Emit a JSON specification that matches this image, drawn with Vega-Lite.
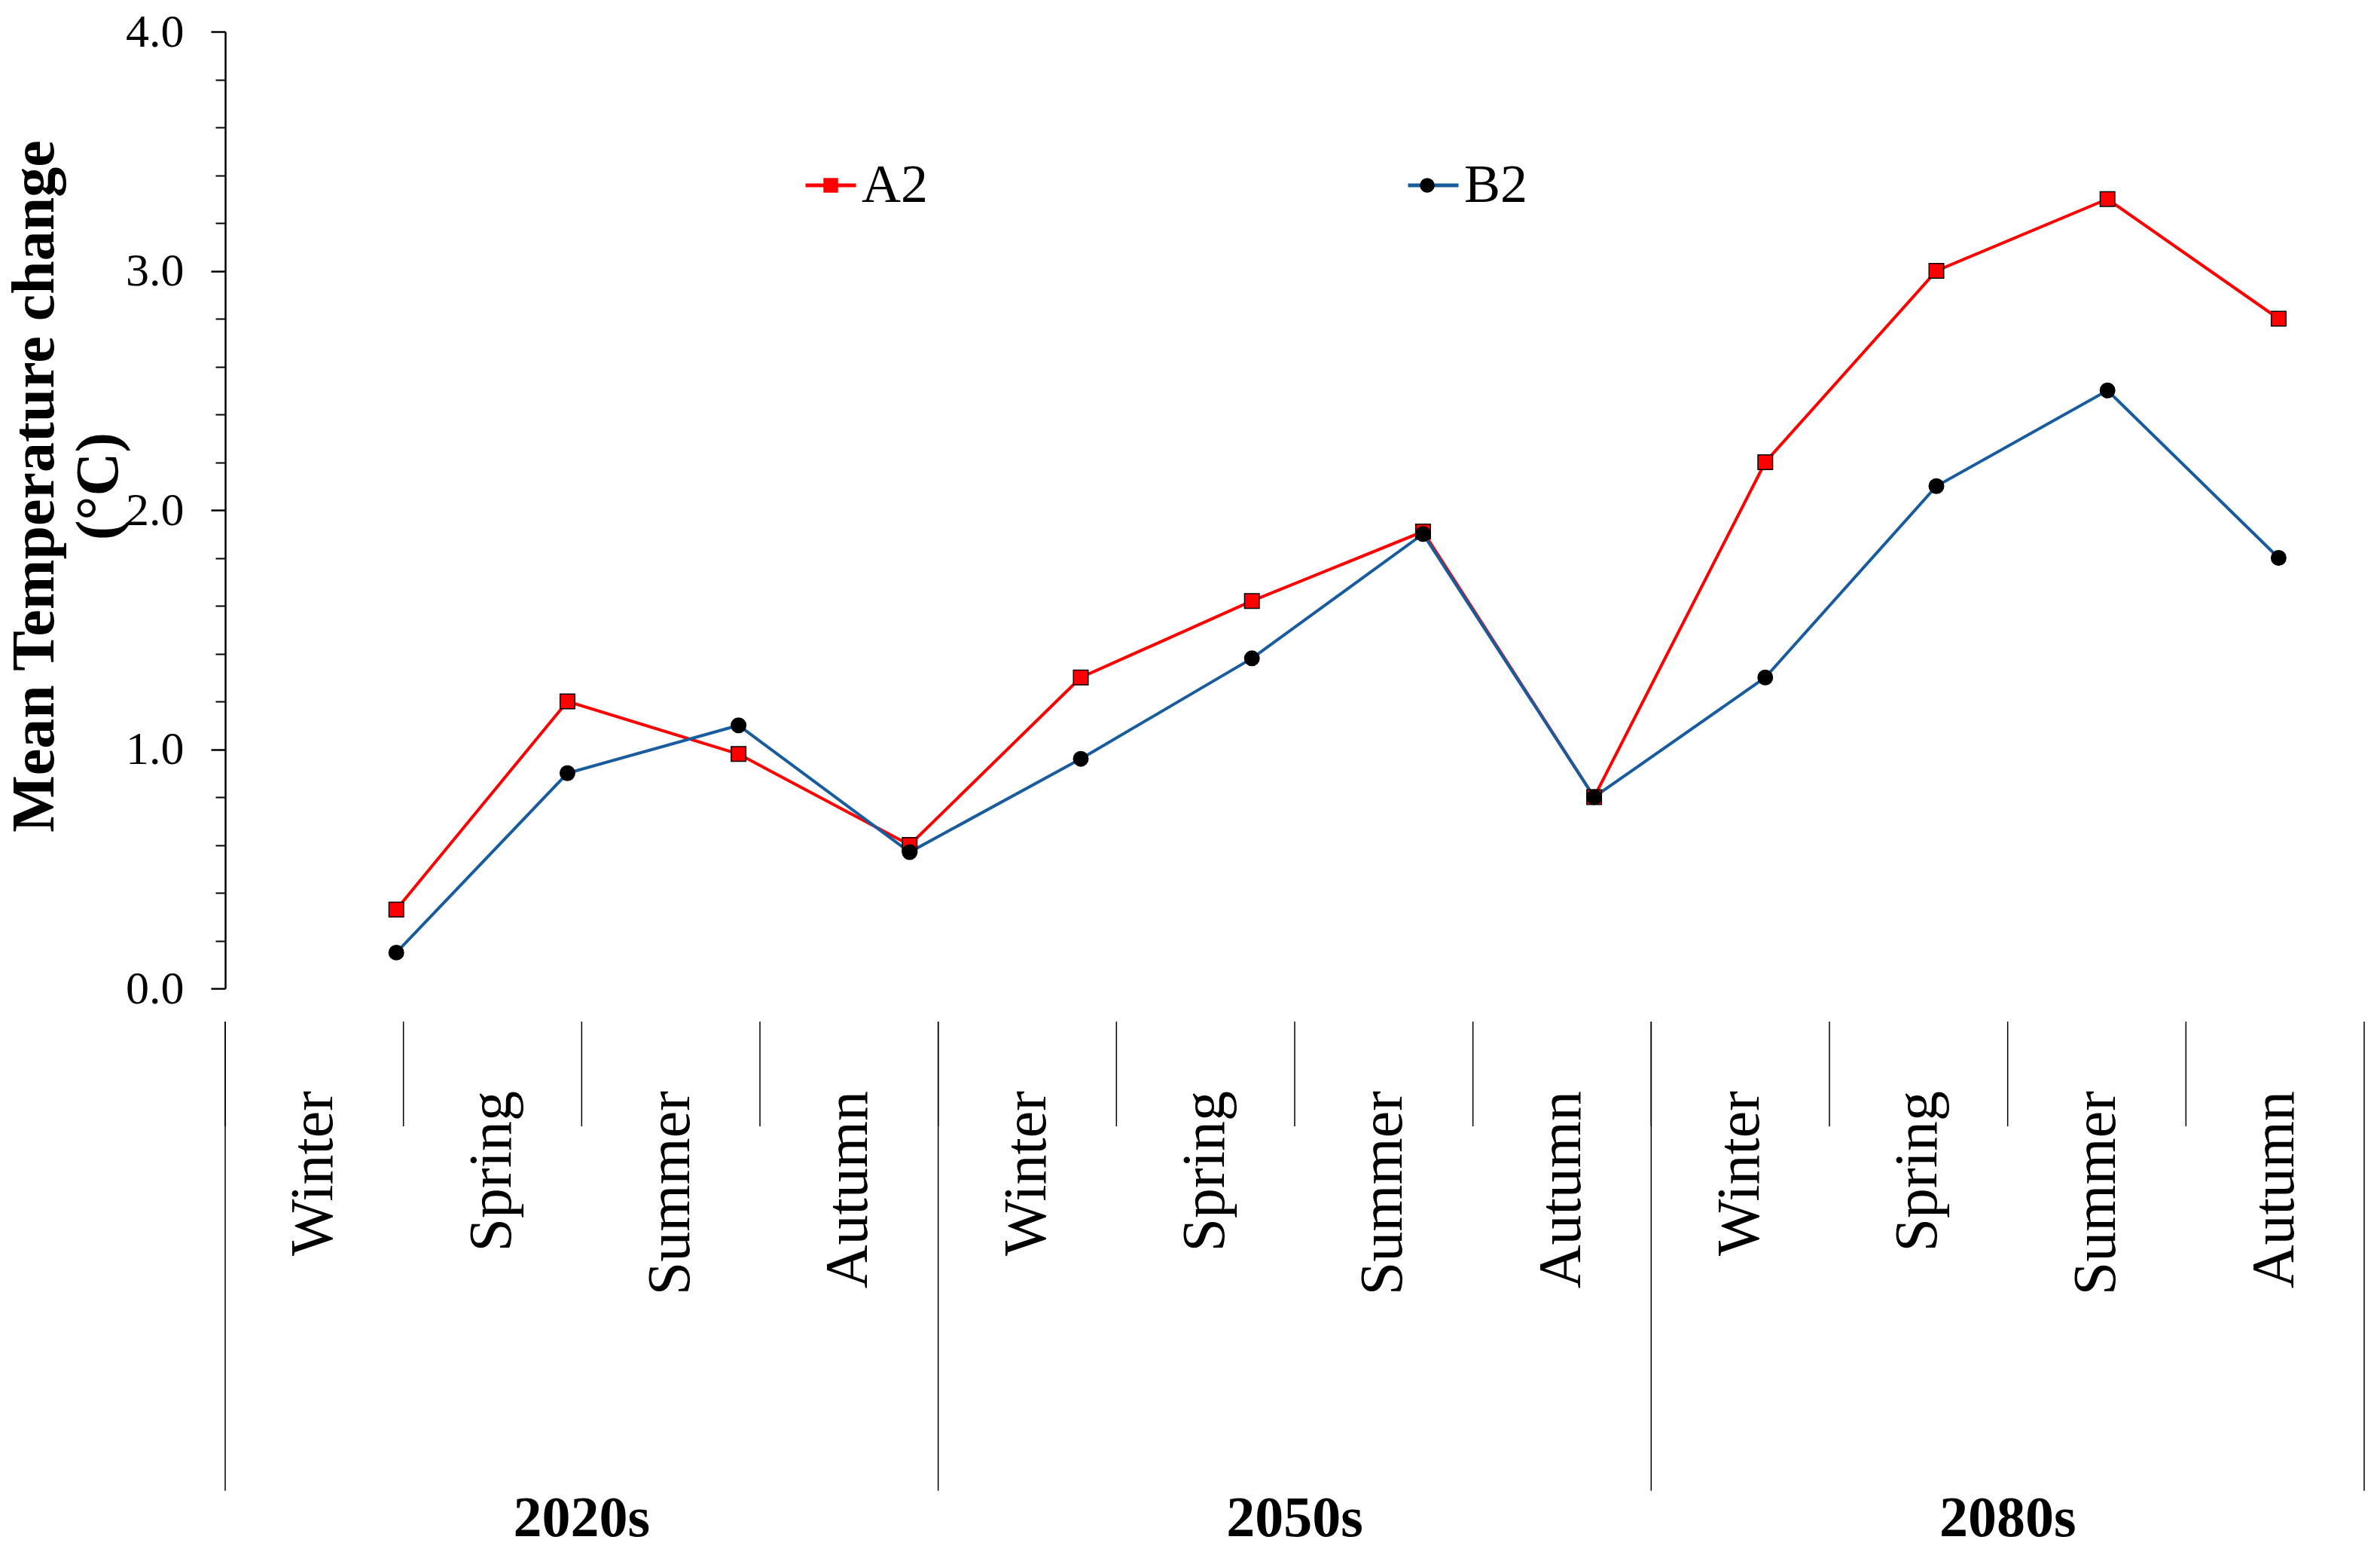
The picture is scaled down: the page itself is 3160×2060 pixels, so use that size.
{
  "$schema": "https://vega.github.io/schema/vega-lite/v6.json",
  "padding": {"left": 6, "top": 11, "right": 24, "bottom": 0},
  "background": "white",
  "config": {"view": {"stroke": null}, "font": "Liberation Serif"},
  "data": {"values": [
    {"period": "2020s", "season": "Winter", "idx": 1, "series": "A2", "value": 0.33},
    {"period": "2020s", "season": "Spring", "idx": 2, "series": "A2", "value": 1.2},
    {"period": "2020s", "season": "Summer", "idx": 3, "series": "A2", "value": 0.98},
    {"period": "2020s", "season": "Autumn", "idx": 4, "series": "A2", "value": 0.6},
    {"period": "2050s", "season": "Winter", "idx": 5, "series": "A2", "value": 1.3},
    {"period": "2050s", "season": "Spring", "idx": 6, "series": "A2", "value": 1.62},
    {"period": "2050s", "season": "Summer", "idx": 7, "series": "A2", "value": 1.91},
    {"period": "2050s", "season": "Autumn", "idx": 8, "series": "A2", "value": 0.8},
    {"period": "2080s", "season": "Winter", "idx": 9, "series": "A2", "value": 2.2},
    {"period": "2080s", "season": "Spring", "idx": 10, "series": "A2", "value": 3.0},
    {"period": "2080s", "season": "Summer", "idx": 11, "series": "A2", "value": 3.3},
    {"period": "2080s", "season": "Autumn", "idx": 12, "series": "A2", "value": 2.8},
    {"period": "2020s", "season": "Winter", "idx": 1, "series": "B2", "value": 0.15},
    {"period": "2020s", "season": "Spring", "idx": 2, "series": "B2", "value": 0.9},
    {"period": "2020s", "season": "Summer", "idx": 3, "series": "B2", "value": 1.1},
    {"period": "2020s", "season": "Autumn", "idx": 4, "series": "B2", "value": 0.57},
    {"period": "2050s", "season": "Winter", "idx": 5, "series": "B2", "value": 0.96},
    {"period": "2050s", "season": "Spring", "idx": 6, "series": "B2", "value": 1.38},
    {"period": "2050s", "season": "Summer", "idx": 7, "series": "B2", "value": 1.9},
    {"period": "2050s", "season": "Autumn", "idx": 8, "series": "B2", "value": 0.8},
    {"period": "2080s", "season": "Winter", "idx": 9, "series": "B2", "value": 1.3},
    {"period": "2080s", "season": "Spring", "idx": 10, "series": "B2", "value": 2.1},
    {"period": "2080s", "season": "Summer", "idx": 11, "series": "B2", "value": 2.5},
    {"period": "2080s", "season": "Autumn", "idx": 12, "series": "B2", "value": 1.8}
  ]},
  "bounds": "flush",
  "spacing": 0,
  "resolve": {"scale": {"x": "independent", "y": "independent"}},
  "vconcat": [
    {
      "width": 2840,
      "height": 1270,
      "resolve": {"axis": {"y": "independent"}},
      "layer": [
        {
          "mark": {"type": "line", "strokeWidth": 4},
          "encoding": {
            "x": {"field": "idx", "type": "quantitative", "scale": {"domain": [0, 12.5], "nice": false, "zero": false},
                  "axis": {"domain": true, "domainColor": "black", "domainWidth": 2.5, "ticks": false, "labels": false, "grid": false, "title": null}},
            "y": {"field": "value", "type": "quantitative", "scale": {"domain": [0, 4], "nice": false},
                  "axis": {"orient": "left", "values": [0, 1, 2, 3, 4], "format": ".1f", "labelFont": "Liberation Serif", "labelFontSize": 62, "labelColor": "black", "labelPadding": 36, "labelFlush": false, "labelOverlap": false, "labelBound": false,
                           "tickSize": 19, "tickWidth": 2.5, "tickColor": "black", "domainColor": "black", "domainWidth": 2.5, "grid": false,
                           "title": ["Mean Temperature  change", "(°C)"], "titleFont": "Liberation Serif", "titleFontSize": 80, "titleFontWeight": "bold", "titleColor": "black", "titleLineHeight": 85, "titlePadding": -6, "titleY": 603}},
            "stroke": {"field": "series", "type": "nominal", "scale": {"domain": ["A2", "B2"], "range": ["#ff0000", "#185c9d"]},
                       "legend": {"title": null, "orient": "none", "legendX": 768, "legendY": 168, "direction": "horizontal", "columnPadding": 627, "symbolType": "stroke", "symbolSize": 4489, "symbolStrokeWidth": 5, "labelFont": "Liberation Serif", "labelFontSize": 72, "labelColor": "black", "labelOffset": 5, "padding": 0, "rowPadding": 0}}
          }
        },
        {
          "mark": {"type": "point", "filled": true, "stroke": "black", "strokeWidth": 1.5, "size": 380, "opacity": 1},
          "encoding": {
            "x": {"field": "idx", "type": "quantitative", "axis": null},
            "y": {"field": "value", "type": "quantitative",
                  "axis": {"orient": "left", "values": [0.2, 0.4, 0.6, 0.8, 1.2, 1.4, 1.6, 1.8, 2.2, 2.4, 2.6, 2.8, 3.2, 3.4, 3.6, 3.8], "labels": false, "tickSize": 13, "tickWidth": 2, "tickColor": "black", "domain": false, "grid": false, "title": null}},
            "fill": {"field": "series", "type": "nominal", "scale": {"range": ["#ff0000", "#000000"]},
                     "legend": {"title": null, "orient": "none", "legendX": 768, "legendY": 168, "direction": "horizontal", "columnPadding": 715, "symbolSize": 380, "symbolStrokeColor": "black", "symbolStrokeWidth": 1.5, "labelFont": "Liberation Serif", "labelFontSize": 72, "labelExpr": "''", "labelOffset": 5, "padding": 0, "rowPadding": 0}},
            "shape": {"field": "series", "type": "nominal", "scale": {"range": ["square", "circle"]},
                      "legend": {"title": null, "orient": "none", "legendX": 768, "legendY": 168, "direction": "horizontal", "columnPadding": 715, "symbolSize": 380, "symbolStrokeColor": "black", "symbolStrokeWidth": 1.5, "labelFont": "Liberation Serif", "labelFontSize": 72, "labelExpr": "''", "labelOffset": 5, "padding": 0, "rowPadding": 0}}
          }
        }
      ]
    },
    {
      "width": 2840,
      "height": 745,
      "transform": [{"filter": "datum.series === 'A2'"}],
      "layer": [
        {
          "mark": {"type": "rule", "color": "black", "strokeWidth": 1.5},
          "encoding": {
            "x": {"field": "idx", "type": "ordinal", "bandPosition": 0, "scale": {"type": "band", "paddingInner": 0, "paddingOuter": 0}, "axis": null},
            "y": {"datum": 0.059, "type": "quantitative", "scale": {"domain": [0, 1], "reverse": true, "nice": false, "zero": false}, "axis": null},
            "y2": {"datum": 0.2456}
          }
        },
        {
          "transform": [{"filter": "datum.season === 'Winter'"}],
          "mark": {"type": "rule", "color": "black", "strokeWidth": 1.5},
          "encoding": {
            "x": {"field": "idx", "type": "ordinal", "bandPosition": 0, "axis": null},
            "y": {"datum": 0.059, "type": "quantitative", "axis": null},
            "y2": {"datum": 0.895}
          }
        },
        {
          "transform": [{"filter": "datum.idx === 12"}],
          "mark": {"type": "rule", "color": "black", "strokeWidth": 1.5},
          "encoding": {
            "x": {"field": "idx", "type": "ordinal", "bandPosition": 1, "axis": null},
            "y": {"datum": 0.059, "type": "quantitative", "axis": null},
            "y2": {"datum": 0.895}
          }
        },
        {
          "mark": {"type": "text", "angle": 270, "align": "right", "baseline": "middle", "font": "Liberation Serif", "fontSize": 80, "color": "black"},
          "encoding": {
            "x": {"field": "idx", "type": "ordinal", "axis": null},
            "y": {"datum": 0.1826, "type": "quantitative", "axis": null},
            "text": {"field": "season"}
          }
        },
        {
          "transform": [{"filter": "datum.season === 'Spring'"}],
          "mark": {"type": "text", "align": "center", "baseline": "middle", "font": "Liberation Serif", "fontSize": 76, "fontWeight": "bold", "color": "black"},
          "encoding": {
            "x": {"field": "idx", "type": "ordinal", "bandPosition": 1, "axis": null},
            "y": {"datum": 0.945, "type": "quantitative", "axis": null},
            "text": {"field": "period"}
          }
        }
      ]
    }
  ]
}
